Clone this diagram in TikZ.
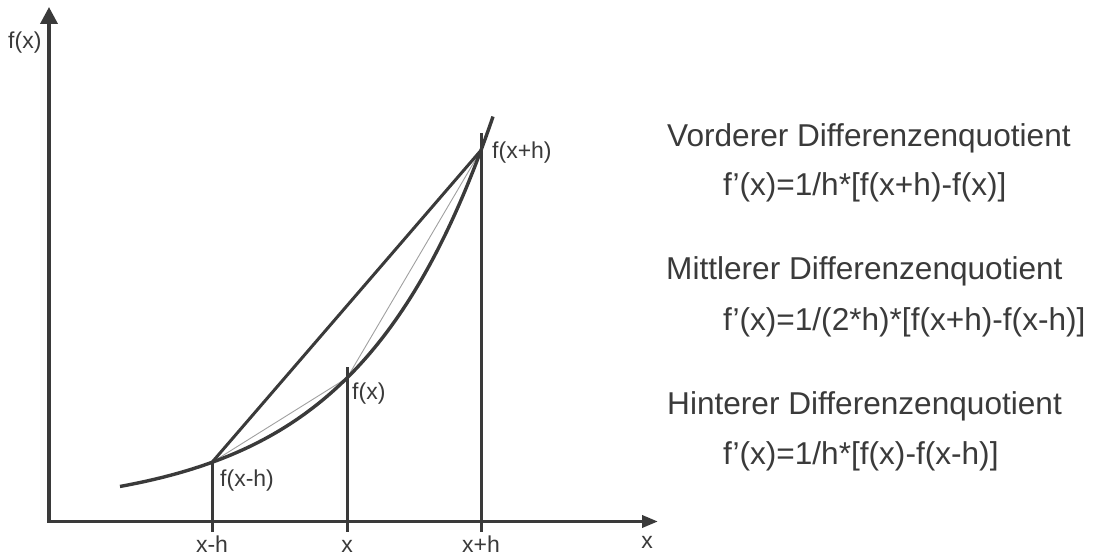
\documentclass[tikz,border=0pt]{standalone}
\usepackage{fontspec}
\setmainfont{Liberation Sans}
\usetikzlibrary{arrows.meta}
\definecolor{ink}{HTML}{3A3A3A}
\definecolor{thingray}{HTML}{A0A0A0}
\begin{document}
\begin{tikzpicture}[x=1pt,y=1pt,
  lbl/.style={inner sep=0pt, anchor=base west, text=ink, font=\fontsize{23}{26}\selectfont},
  ticklbl/.style={inner sep=0pt, anchor=base, text=ink, font=\fontsize{23}{26}\selectfont},
  big/.style={inner sep=0pt, anchor=base west, text=ink, font=\fontsize{31.6}{36}\selectfont},
  axisline/.style={draw=ink, line width=3.6pt},
  curveline/.style={draw=ink, line width=3.4pt},
  vline/.style={draw=ink, line width=3pt},
  secant/.style={draw=ink, line width=3pt},
  thinline/.style={draw=thingray, line width=0.9pt},
  declare function={F(\t)=45+133*exp(0.00744*(\t-347));}]
\useasboundingbox (0,0) rectangle (1093,556);
% axes
\coordinate (O) at (49,34.5);
\coordinate (ytip) at (49,549);
\coordinate (xtip) at (658,34.5);
\draw[axisline, {Triangle[length=17pt,width=17pt]}-{Triangle[length=16pt,width=12pt]}] (ytip) -- (O) -- (xtip);
% points on the curve
\coordinate (P1) at (212,{F(212)});
\coordinate (P2) at (347,{F(347)});
\coordinate (P3) at (481,{F(481)});
\coordinate (B1) at (212,24);
\coordinate (B2) at (347,24);
\coordinate (B3) at (481,24);
\coordinate (T2) at (347,189);
\coordinate (T3) at (481,423);
% vertical lines
\draw[vline] (B1) -- (P1);
\draw[vline] (B2) -- (T2);
\draw[vline] (B3) -- (T3);
% thin chords
\draw[thinline] (P1) -- (P2) -- (P3);
% central secant
\draw[secant] (P1) -- (P3);
% curve
\draw[curveline] plot[domain=120:493, samples=120, smooth] (\x,{F(\x)});
% labels
\node[lbl] (lfxh) at (492,397) {f(x+h)};
\node[lbl] (lfx) at (352,156) {f(x)};
\node[lbl] (lfxmh) at (220,69) {f(x-h)};
\node[lbl] (ylab) at (8,507) {f(x)};
\node[ticklbl] (t1) at (212,3) {x-h};
\node[ticklbl] (t2) at (347,3) {x};
\node[ticklbl] (t3) at (481,3) {x+h};
\node[ticklbl] (xlab) at (647,7) {x};
% formulas
\node[big] (h1) at (667,409) {Vorderer Differenzenquotient};
\node[big] (f1) at (723,360) {f’(x)=1/h*[f(x+h)-f(x)]};
\node[big] (h2) at (666,276) {Mittlerer Differenzenquotient};
\node[big] (f2) at (723,225) {f’(x)=1/(2*h)*[f(x+h)-f(x-h)]};
\node[big] (h3) at (667,141) {Hinterer Differenzenquotient};
\node[big] (f3) at (723,91) {f’(x)=1/h*[f(x)-f(x-h)]};
\end{tikzpicture}
\end{document}
